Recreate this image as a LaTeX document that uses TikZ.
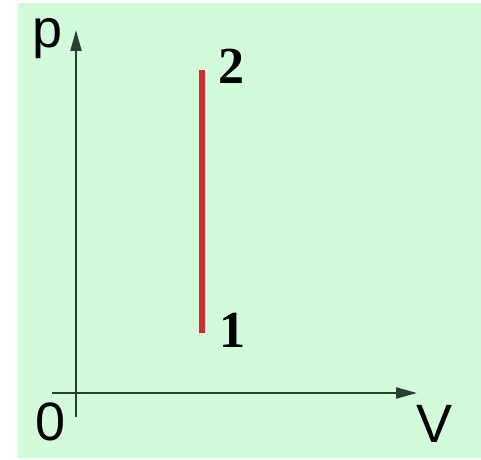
\documentclass[tikz,border=0pt]{standalone}
\usepackage{fontspec}
\setmainfont{Liberation Serif}
\newfontfamily\axisfont{Liberation Sans}
\usetikzlibrary{arrows.meta}
\definecolor{bggreen}{HTML}{D3FBDB}
\definecolor{axisgray}{HTML}{2A3F33}
\definecolor{procred}{HTML}{D42B2B}
\tikzset{
  axisline/.style={draw=axisgray, line width=2.2pt, -{Triangle[length=21pt,width=11pt]}},
  axislabel/.style={inner sep=0pt, anchor=base, font=\axisfont\fontsize{54}{54}\selectfont},
  statelabel/.style={inner sep=0pt, anchor=base, font=\bfseries\fontsize{52}{52}\selectfont},
  process/.style={draw=procred, line width=5.5pt}
}
\begin{document}
\begin{tikzpicture}[x=1pt,y=1pt]
\useasboundingbox (0,0) rectangle (481,459);
\fill[white] (0,0) rectangle (481,459);
\fill[bggreen] (18,1) rectangle (481,456);
% axes
\coordinate (vstart) at (76,42);
\coordinate (vend) at (76,429);
\coordinate (hstart) at (52,66);
\coordinate (hend) at (417,66);
\draw[axisline] (vstart) -- (vend);
\draw[axisline] (hstart) -- (hend);
\node[axislabel] (plab) at (48,411) {p};
\node[axislabel] (vlab) at (435,17) {V};
\node[axislabel] (olab) at (51,19) {0};
% process
\coordinate (s1) at (202,126);
\coordinate (s2) at (202,389);
\draw[process] (s1) -- (s2);
\node[statelabel] (n2) at (231,376) {2};
\node[statelabel] (n1) at (232,112) {1};
\end{tikzpicture}
\end{document}
